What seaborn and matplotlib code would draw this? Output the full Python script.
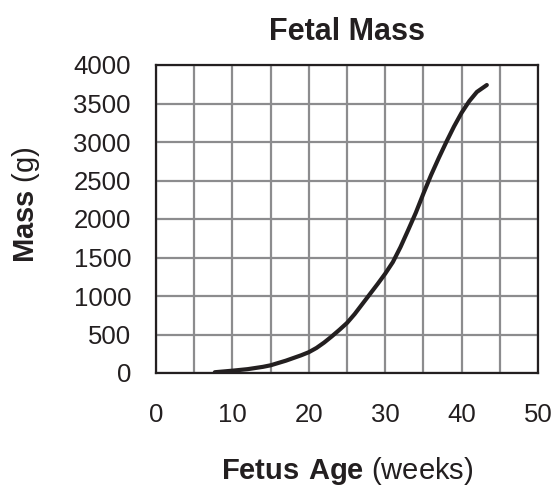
import seaborn as sns
import matplotlib.pyplot as plt

# fetal age (weeks) vs mass (g)
weeks = [7.7, 10, 12, 14, 15, 16, 17, 18, 19, 20, 21, 22, 23, 24, 25, 26, 27,
         28, 29, 30, 31, 32, 33, 34, 35, 36, 37, 38, 39, 40, 41, 42, 43.3]
mass = [10, 30, 50, 80, 100, 130, 160, 195, 230, 270, 325, 395, 475, 560, 650,
        765, 895, 1025, 1155, 1290, 1440, 1635, 1855, 2080, 2330, 2570, 2790,
        3000, 3200, 3380, 3530, 3650, 3740]

x_major = [0, 10, 20, 30, 40, 50]
x_grid = [0, 5, 10, 15, 20, 25, 30, 35, 40, 45, 50]
y_ticks = [0, 500, 1000, 1500, 2000, 2500, 3000, 3500, 4000]

sns.set_style("white")
plt.rcParams['font.family'] = ['Liberation Sans', 'DejaVu Sans']
plt.rcParams['mathtext.fontset'] = 'custom'
plt.rcParams['mathtext.rm'] = 'Liberation Sans'
plt.rcParams['mathtext.bf'] = 'Liberation Sans:bold'

ink = '#231f20'
fig = plt.figure(figsize=(5.53, 4.93), dpi=100)
ax = fig.add_axes([156 / 553, 1 - 373 / 493, 382 / 553, 308 / 493])

ax.set_xlim(0, 50)
ax.set_ylim(0, 4000)
ax.set_xticks(x_grid, minor=True)
ax.set_xticks(x_major)
ax.set_yticks(y_ticks)
ax.grid(True, which='both', color='#8c8c8e', lw=1.6, zorder=0)
ax.set_axisbelow(True)

sns.lineplot(x=weeks, y=mass, color=ink, lw=3, ax=ax, zorder=3)

for s in ax.spines.values():
    s.set_color(ink)
    s.set_linewidth(1.6)
ax.tick_params(which='major', direction='out', length=10.5, width=1.6,
               color=ink, labelsize=18.5, labelcolor=ink)
ax.tick_params(axis='x', which='major', pad=11)
ax.tick_params(axis='y', which='major', pad=7.5)
ax.tick_params(which='minor', length=0)

ax.set_title('Fetal Mass', fontsize=22, fontweight='bold', color=ink, pad=18)
ax.set_xlabel(r'$\mathbf{Fetus\ Age}$ (weeks)', fontsize=21, color=ink)
ax.set_ylabel(r'$\mathbf{Mass}$ (g)', fontsize=21, color=ink)
ax.xaxis.label.set_va('center')
ax.yaxis.label.set_va('center')
ax.xaxis.set_label_coords(0.5, (373 - 471) / 308)
ax.yaxis.set_label_coords((26 - 156) / 382, (373 - 205) / 308)

fig.savefig('out.png', dpi=100)
